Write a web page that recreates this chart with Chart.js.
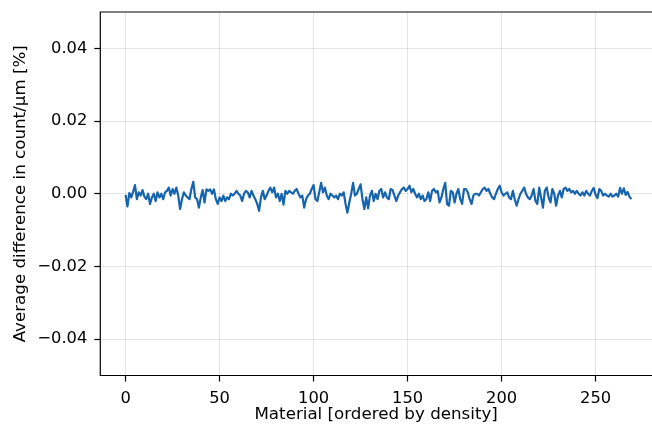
<!DOCTYPE html>
<html>
<head>
<meta charset="utf-8">
<script src="https://cdn.jsdelivr.net/npm/chart.js@4/dist/chart.umd.min.js"></script>
<style>
html,body{margin:0;padding:0;background:#fff;overflow:hidden;}
#wrap{width:652px;height:427px;}
</style>
</head>
<body>
<div id="wrap"><canvas id="c" width="652" height="427"></canvas></div>
<script>
const xTicks = [0, 50, 100, 150, 200, 250];
const yTicks = [-0.04, -0.02, 0.00, 0.02, 0.04];
const xLabel = 'Material [ordered by density]';
const yLabel = 'Average difference in count/\u03bcm [%]';
const diffValues = [
-0.0003,-0.0035,0.0002,-0.0010,0.0005,0.0024,-0.0015,0.0004,-0.0005,0.0010,
-0.0008,-0.0015,0.0000,-0.0028,-0.0010,0.0000,-0.0020,0.0004,-0.0010,0.0000,
-0.0015,0.0004,0.0008,0.0017,-0.0005,0.0013,0.0000,0.0017,-0.0005,-0.0042,
-0.0015,0.0004,-0.0005,-0.0010,-0.0015,0.0013,0.0033,-0.0010,-0.0015,-0.0038,
-0.0010,0.0010,-0.0024,0.0012,0.0008,0.0012,0.0000,0.0012,-0.0015,-0.0028,
-0.0010,-0.0020,-0.0005,-0.0020,-0.0010,-0.0015,0.0000,-0.0005,0.0000,0.0008,
0.0000,-0.0005,-0.0020,0.0000,0.0008,0.0004,-0.0010,0.0008,-0.0005,-0.0015,
-0.0028,-0.0047,-0.0010,0.0008,-0.0015,-0.0005,0.0008,0.0017,0.0004,0.0017,
-0.0010,0.0000,-0.0020,0.0000,-0.0030,0.0008,0.0000,0.0008,0.0004,0.0000,
0.0008,0.0013,0.0000,-0.0010,-0.0005,-0.0038,-0.0015,-0.0005,0.0000,0.0013,
0.0024,-0.0015,-0.0020,0.0004,0.0030,0.0004,0.0017,-0.0005,-0.0015,0.0000,
-0.0005,-0.0010,-0.0005,-0.0015,0.0000,-0.0005,0.0004,-0.0028,-0.0052,-0.0024,
0.0000,0.0030,-0.0005,0.0000,0.0013,0.0026,-0.0015,-0.0042,-0.0010,-0.0040,
-0.0005,0.0008,-0.0020,0.0000,-0.0015,0.0008,0.0013,-0.0010,0.0004,-0.0010,
-0.0015,0.0013,0.0010,-0.0005,-0.0020,-0.0005,0.0004,0.0013,0.0017,0.0008,
0.0013,0.0022,0.0004,0.0013,0.0000,-0.0010,0.0000,-0.0015,-0.0005,-0.0020,
-0.0015,0.0004,-0.0020,0.0008,0.0013,0.0004,0.0008,-0.0024,-0.0010,0.0013,
0.0030,-0.0028,-0.0033,0.0008,0.0004,-0.0024,0.0000,0.0013,-0.0015,-0.0028,
0.0013,0.0013,0.0004,-0.0015,-0.0028,-0.0005,0.0000,0.0000,-0.0005,0.0004,
0.0013,0.0017,0.0008,0.0013,0.0000,-0.0010,-0.0015,0.0000,0.0013,0.0022,
0.0004,-0.0005,0.0000,0.0004,-0.0010,-0.0015,0.0008,-0.0015,-0.0033,-0.0015,
0.0000,0.0008,0.0017,0.0000,-0.0010,-0.0015,-0.0005,0.0013,-0.0020,-0.0028,
0.0017,-0.0010,-0.0038,0.0008,0.0017,-0.0010,-0.0024,0.0013,0.0000,-0.0033,
-0.0005,0.0008,-0.0010,0.0013,0.0017,0.0008,0.0013,0.0004,0.0008,0.0000,
0.0008,0.0000,-0.0005,0.0004,-0.0005,0.0008,0.0000,-0.0005,0.0008,0.0016,
-0.0003,-0.0012,0.0013,0.0008,-0.0005,0.0000,-0.0005,-0.0008,0.0000,-0.0008,
-0.0005,0.0000,-0.0008,0.0016,0.0000,0.0015,-0.0003,0.0005,-0.0008,-0.0015
];
const materialIndex = diffValues.map((v, i) => i);

const FONT = 'DejaVu Sans';
const fmt = v => { const s = Math.abs(v) < 1e-12 ? '0.00' : v.toFixed(2); return s.replace('-', '\u2212'); };

const framePlugin = {
  id: 'frame',
  afterDatasetsDraw(chart) {
    const a = chart.chartArea, ctx = chart.ctx;
    ctx.save();
    ctx.strokeStyle = '#000';
    ctx.lineWidth = 1.2;
    ctx.beginPath();
    ctx.moveTo(a.right + 2, a.top);
    ctx.lineTo(a.left, a.top);
    ctx.lineTo(a.left, a.bottom);
    ctx.lineTo(a.right + 2, a.bottom);
    ctx.stroke();
    ctx.restore();
  }
};

new Chart(document.getElementById('c'), {
  type: 'line',
  data: {
    datasets: [{
      data: materialIndex.map((x, i) => ({x: x, y: diffValues[i]})),
      borderColor: '#1764ae',
      borderWidth: 2.2,
      borderJoinStyle: 'round',
      pointRadius: 0,
      tension: 0,
      fill: false
    }]
  },
  options: {
    responsive: false,
    animation: false,
    events: [],
    layout: {padding: {top: 12, right: 0, left: 0, bottom: 0}},
    plugins: {legend: {display: false}, tooltip: {enabled: false}},
    scales: {
      x: {
        type: 'linear',
        min: -13.45, max: 280.0,
        afterBuildTicks: s => { s.ticks = xTicks.map(v => ({value: v})); },
        afterFit: s => { s.height = 51.5; s.paddingLeft = 0; s.paddingRight = 0; },
        ticks: {color: '#000', font: {family: FONT, size: 16.3}, padding: 7, maxRotation: 0, callback: v => String(v)},
        grid: {color: 'rgba(0,0,0,0.1)', lineWidth: 1, tickColor: '#000', tickLength: 6, tickWidth: 1.2},
        border: {display: false},
        title: {display: true, text: xLabel, color: '#000', font: {family: FONT, size: 16.7}, padding: {top: 2.5, bottom: 2.5}}
      },
      y: {
        type: 'linear',
        min: -0.05, max: 0.05,
        afterBuildTicks: s => { s.ticks = yTicks.map(v => ({value: v})); },
        afterFit: s => { s.width = 100.3; s.paddingTop = 0; s.paddingBottom = 0; },
        ticks: {color: '#000', font: {family: FONT, size: 16.3}, padding: 7, callback: v => fmt(v)},
        grid: {color: 'rgba(0,0,0,0.1)', lineWidth: 1, tickColor: '#000', tickLength: 6, tickWidth: 1.2},
        border: {display: false},
        title: {display: true, text: yLabel, color: '#000', font: {family: FONT, size: 16.7}, padding: {top: 11, bottom: 11}}
      }
    }
  },
  plugins: [framePlugin]
});
</script>
</body>
</html>
